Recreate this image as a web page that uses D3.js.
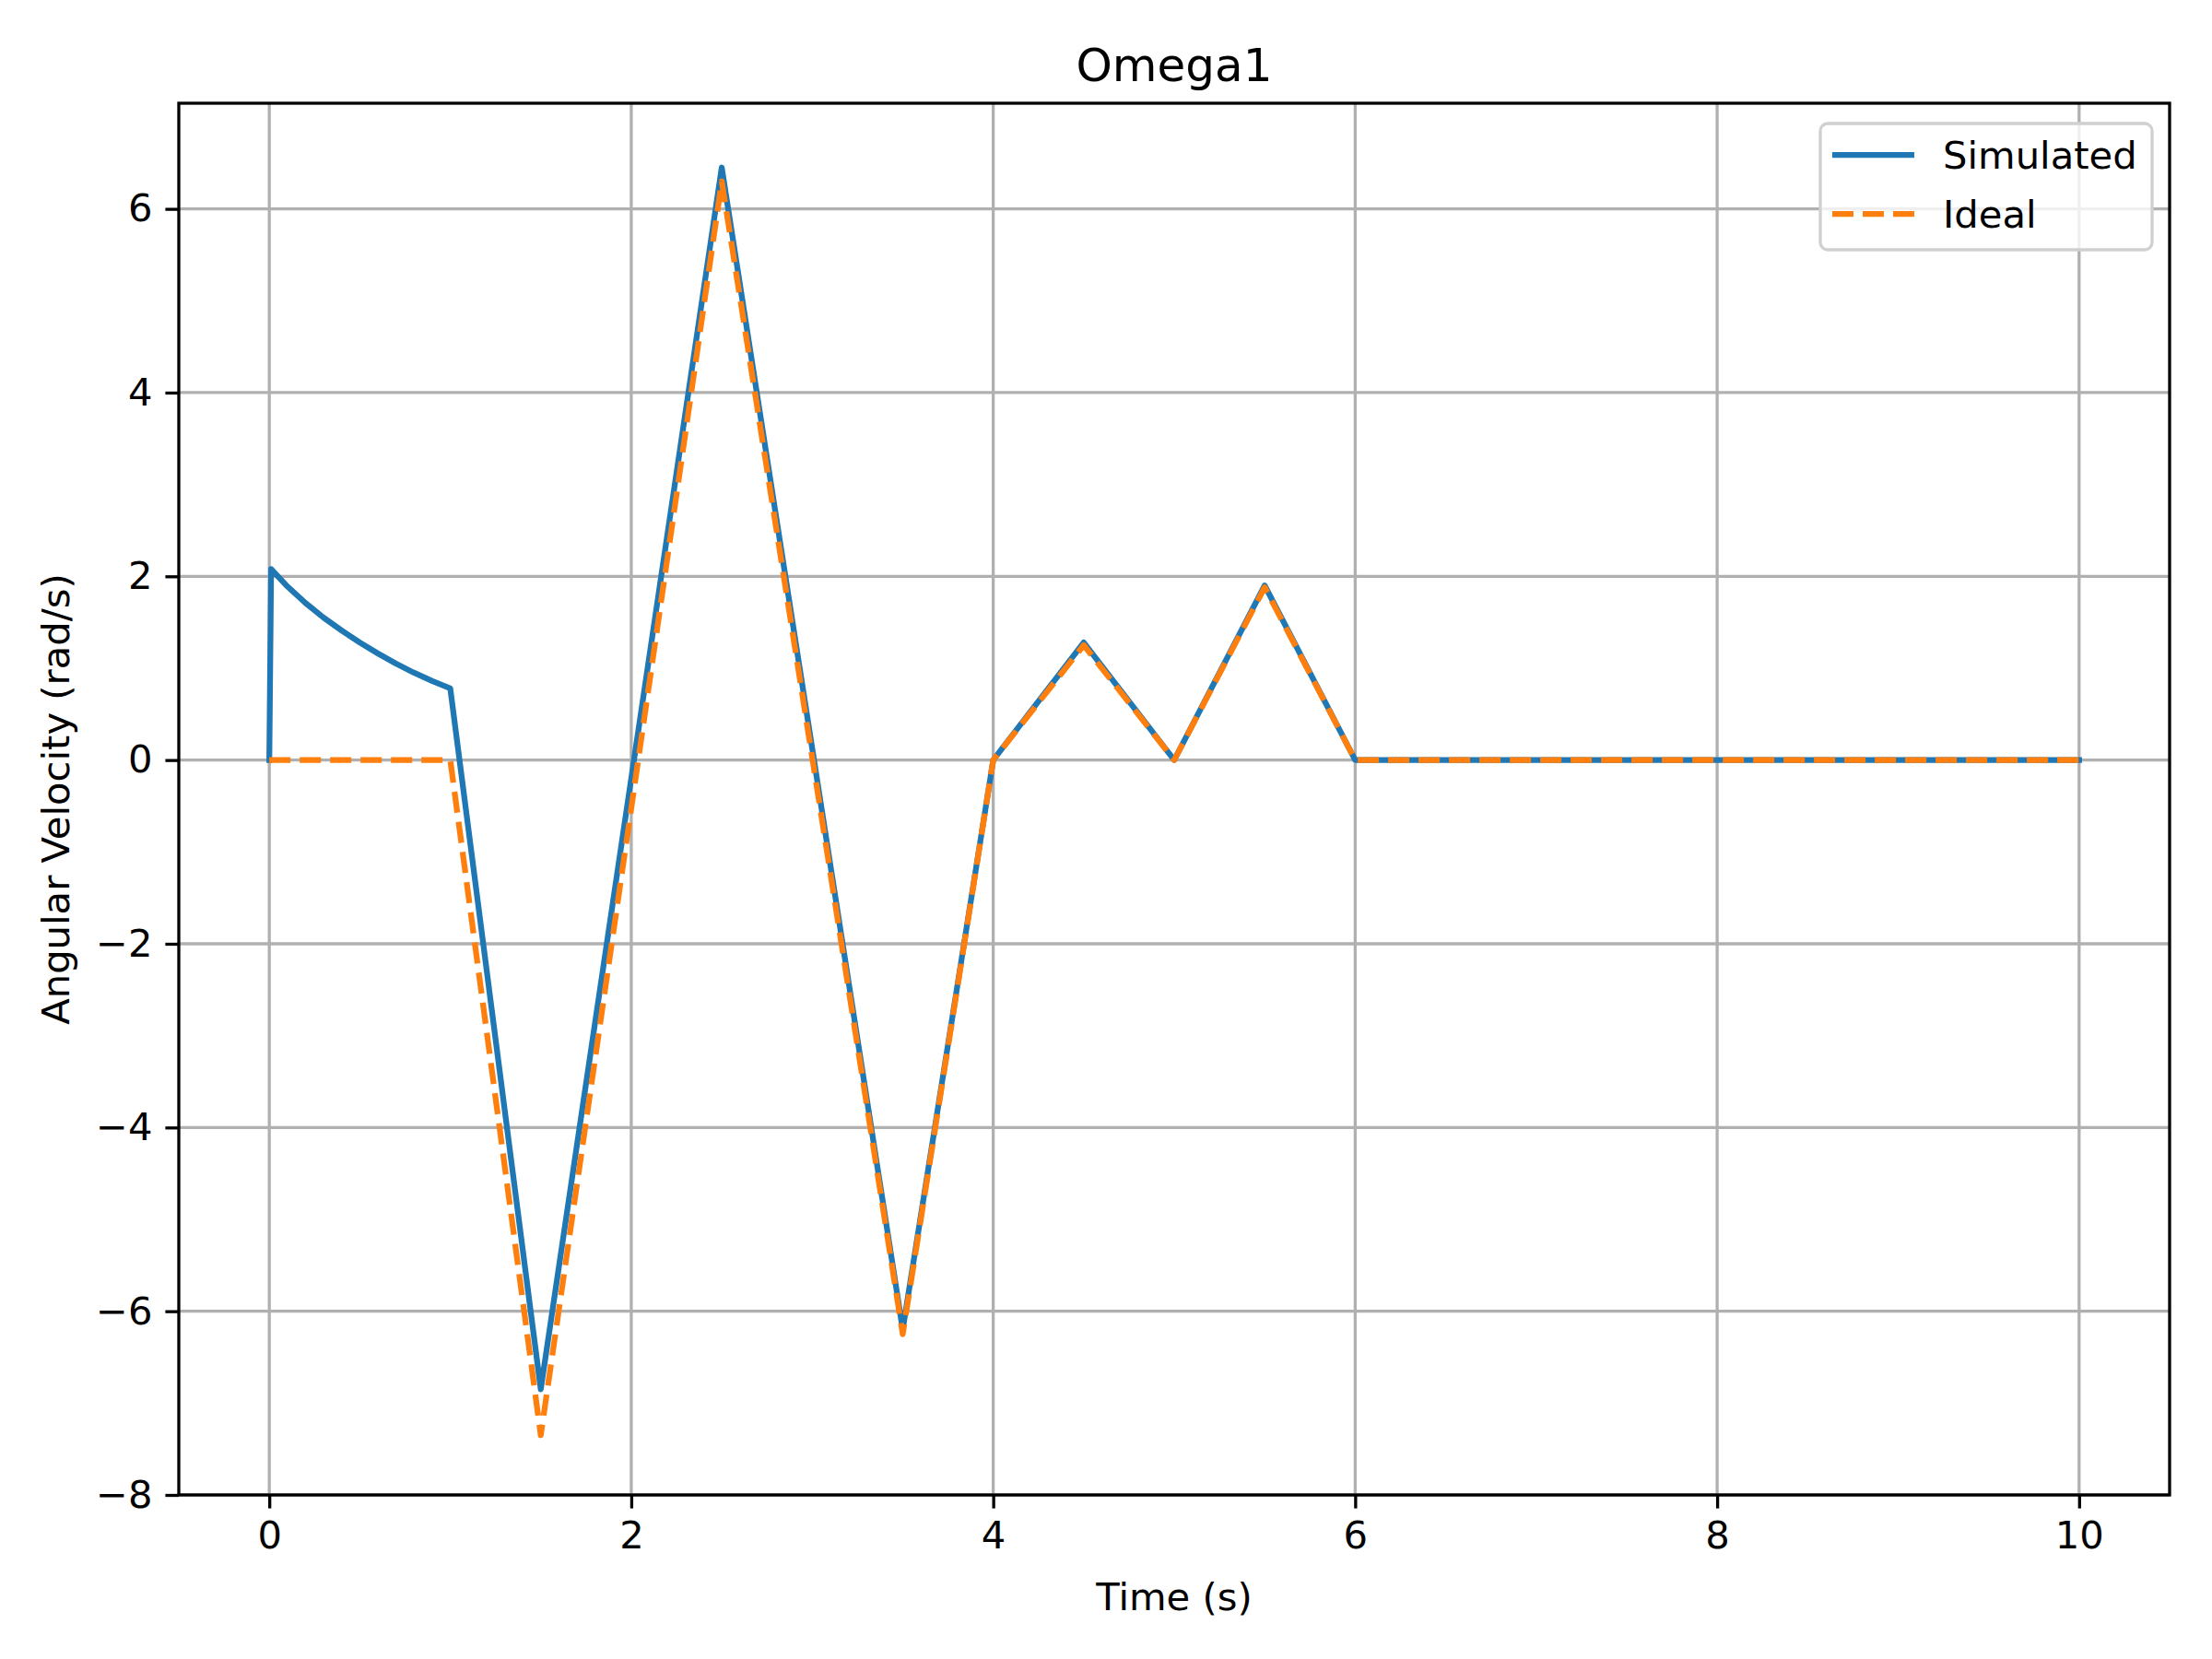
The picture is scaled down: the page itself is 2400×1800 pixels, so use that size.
<!DOCTYPE html>
<html><head><meta charset="utf-8">
<script src="https://cdn.jsdelivr.net/npm/d3@7"></script>
<style>body{margin:0;background:#fff}svg{display:block}text{font-family:"DejaVu Sans",sans-serif}</style>
</head><body>
<script>
const simT = [0,0.01,0.1,0.2,0.3,0.4,0.5,0.6,0.7,0.8,0.9,1.0,1.5,2.5,3.5,4.0,4.5,5.0,5.5,6.0,10.0];
const simV = [0,2.08,1.89,1.71,1.55,1.41,1.28,1.16,1.05,0.95,0.86,0.78,-6.85,6.45,-6.2,0,1.28,0,1.9,0,0];
const idealT = [0,1.0,1.5,2.5,3.5,4.0,4.5,5.0,5.5,6.0,10.0];
const idealV = [0,0,-7.35,6.3,-6.25,0,1.25,0,1.88,0,0];
const xTicks = [0,2,4,6,8,10];
const yTicks = [-8,-6,-4,-2,0,2,4,6];

const W=2400,H=1800,L=194,R=2354,T=112,B=1622;
const svg=d3.select("body").append("svg").attr("width",W).attr("height",H);
const x=d3.scaleLinear().domain([-0.5,10.5]).range([L,R]);
const y=d3.scaleLinear().domain([-8,7.15]).range([B,T]);
const fs=41.7;
const g=svg.append("g");
// grid
g.selectAll(".gx").data(xTicks).join("line").attr("x1",d=>x(d)).attr("x2",d=>x(d)).attr("y1",T).attr("y2",B).attr("stroke","#b0b0b0").attr("stroke-width",3.3);
g.selectAll(".gy").data(yTicks).join("line").attr("y1",d=>y(d)).attr("y2",d=>y(d)).attr("x1",L).attr("x2",R).attr("stroke","#b0b0b0").attr("stroke-width",3.3);
const line=d3.line().x(d=>x(d[0])).y(d=>y(d[1]));
const clip=svg.append("clipPath").attr("id","c").append("rect").attr("x",L).attr("y",T).attr("width",R-L).attr("height",B-T);
const pl=svg.append("g").attr("clip-path","url(#c)");
pl.append("path").attr("d",line(simT.map((t,i)=>[t,simV[i]]))).attr("fill","none").attr("stroke","#1f77b4").attr("stroke-width",6.25).attr("stroke-linejoin","round").attr("stroke-linecap","square");
pl.append("path").attr("d",line(idealT.map((t,i)=>[t,idealV[i]]))).attr("fill","none").attr("stroke","#ff7f0e").attr("stroke-width",6.25).attr("stroke-dasharray","23,10").attr("stroke-linejoin","round");
// axes
const ax=svg.append("g").attr("transform",`translate(0,${B})`).call(d3.axisBottom(x).tickValues(xTicks).tickSize(14.6).tickPadding(14).tickFormat(d3.format("d")));
const ay=svg.append("g").attr("transform",`translate(${L},0)`).call(d3.axisLeft(y).tickValues(yTicks).tickSize(14.6).tickPadding(14).tickFormat(d=>d<0?"\u2212"+(-d):d));
[ax,ay].forEach(a=>{a.select(".domain").remove();a.selectAll("line").attr("stroke","#000").attr("stroke-width",3.3);a.selectAll("text").attr("font-size",fs).attr("font-family","DejaVu Sans").attr("fill","#000");});
svg.append("rect").attr("x",L).attr("y",T).attr("width",R-L).attr("height",B-T).attr("fill","none").attr("stroke","#000").attr("stroke-width",3.3);
svg.append("text").attr("x",(L+R)/2).attr("y",88).attr("text-anchor","middle").attr("font-size",50).text("Omega1");
svg.append("text").attr("x",(L+R)/2).attr("y",1747).attr("text-anchor","middle").attr("font-size",fs).text("Time (s)");
svg.append("text").attr("transform",`translate(75,${(T+B)/2}) rotate(-90)`).attr("text-anchor","middle").attr("font-size",fs).text("Angular Velocity (rad/s)");
// legend
const lg=svg.append("g");
lg.append("rect").attr("x",1975).attr("y",134).attr("width",360).attr("height",137).attr("rx",8).attr("fill","#fff").attr("fill-opacity",0.8).attr("stroke","#d0d0d0").attr("stroke-width",3.3);
const items=[["Simulated","#1f77b4",null,168],["Ideal","#ff7f0e","23,10",232]];
items.forEach(([n,c,da,yy])=>{
 const l=lg.append("line").attr("x1",1988).attr("x2",2077).attr("y1",yy).attr("y2",yy).attr("stroke",c).attr("stroke-width",6.25);
 if(da)l.attr("stroke-dasharray",da);
 lg.append("text").attr("x",2108).attr("y",yy+15).attr("font-size",fs).text(n);
});
</script>
</body></html>
